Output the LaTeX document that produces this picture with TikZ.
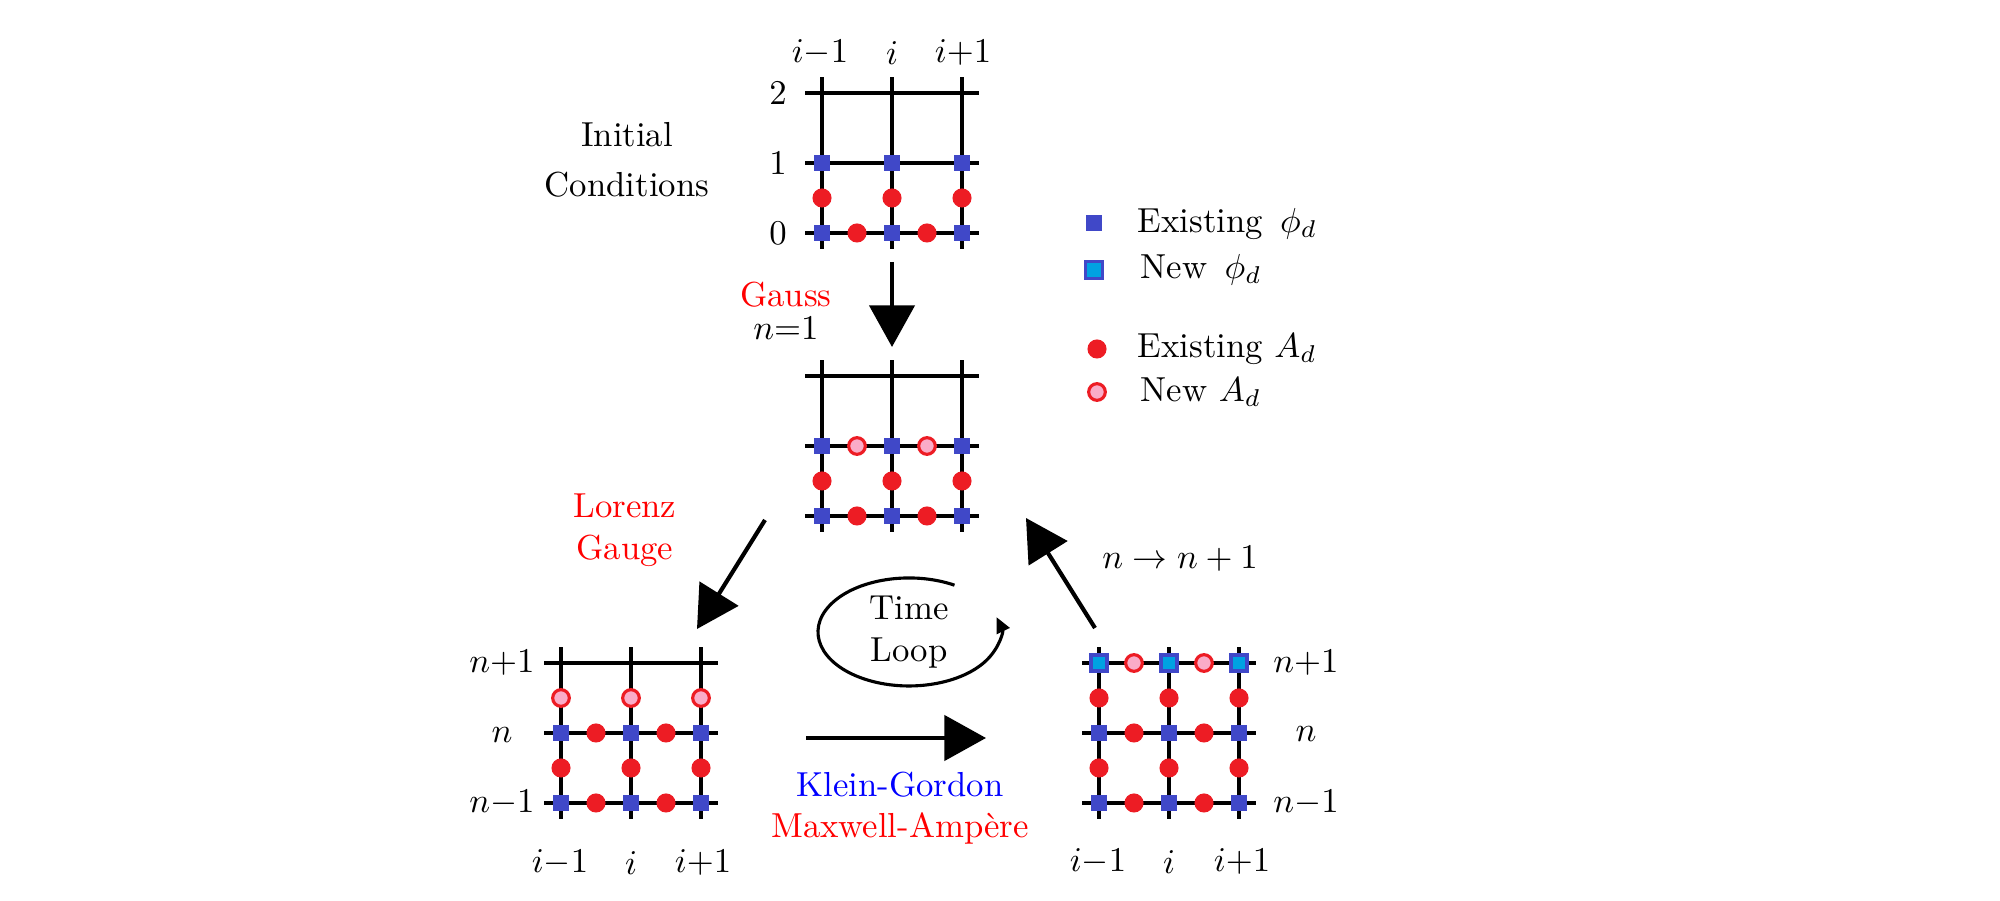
\documentclass[tikz,border=0pt]{standalone}
\usepackage{tikz}
\usetikzlibrary{arrows.meta,positioning}

\definecolor{phiblue}{RGB}{64,72,200}
\definecolor{phicyan}{RGB}{0,162,226}
\definecolor{ared}{RGB}{237,28,36}
\definecolor{apink}{RGB}{250,172,200}

% 3x3 lattice, lower left point at (#1,#2), spacing 70
\newcommand{\latticegrid}[2]{%
  \foreach \k in {0,1,2} {
    \draw[gridline] (#1-17,#2+70*\k) -- (#1+157,#2+70*\k);
    \draw[gridline] (#1+70*\k,#2-16) -- (#1+70*\k,#2+156);
  }%
}

\begin{document}
\begin{tikzpicture}[
    x=0.288pt, y=0.288pt,
    gridline/.style={line width=1pt},
    phiold/.style={fill=phiblue, minimum size=4.5pt, inner sep=0pt},
    phinew/.style={draw=phiblue, fill=phicyan, line width=0.9pt, minimum size=4.6pt, inner sep=0pt},
    aold/.style={circle, fill=ared, minimum size=5.5pt, inner sep=0pt},
    anew/.style={circle, draw=ared, fill=apink, line width=0.9pt, minimum size=4.8pt, inner sep=0pt},
    bigarrow/.style={line width=1.2pt, -{Triangle[length=12pt,width=13pt]}},
    label/.style={inner sep=1pt}
  ]
  \useasboundingbox (0,0) rectangle (2000,-901);

  % initial conditions
  \latticegrid{822}{-233}
  \foreach \k in {0,1,2} {
    \node[phiold] (ic-p\k a) at (822+70*\k,-233) {};
    \node[phiold] (ic-p\k b) at (822+70*\k,-163) {};
    \node[aold] (ic-v\k) at (822+70*\k,-198) {};
  }
  \foreach \k in {0,1} \node[aold] (ic-h\k) at (857+70*\k,-233) {};
  \node[label] (ic-c0) at (820,-53) {$i{-}1$};
  \node[label] (ic-c1) at (892,-53) {$i$};
  \node[label] (ic-c2) at (963,-53) {$i{+}1$};
  \node[label] (ic-r2) at (778,-93) {$2$};
  \node[label] (ic-r1) at (778,-163) {$1$};
  \node[label] (ic-r0) at (778,-233) {$0$};
  \node[align=center] (ictext) at (627,-160) {Initial\\[2.4pt]Conditions};

  % gauss step
  \latticegrid{822}{-516}
  \foreach \k in {0,1,2} {
    \node[phiold] (ga-p\k a) at (822+70*\k,-516) {};
    \node[phiold] (ga-p\k b) at (822+70*\k,-446) {};
    \node[aold] (ga-v\k) at (822+70*\k,-481) {};
  }
  \foreach \k in {0,1} {
    \node[aold] (ga-h\k) at (857+70*\k,-516) {};
    \node[anew] (ga-n\k) at (857+70*\k,-446) {};
  }

  % lorenz gauge step
  \latticegrid{561}{-803}
  \foreach \k in {0,1,2} {
    \node[phiold] (lg-p\k a) at (561+70*\k,-803) {};
    \node[phiold] (lg-p\k b) at (561+70*\k,-733) {};
    \node[aold] (lg-v\k) at (561+70*\k,-768) {};
    \node[anew] (lg-n\k) at (561+70*\k,-698) {};
  }
  \foreach \k in {0,1} {
    \node[aold] (lg-h\k a) at (596+70*\k,-803) {};
    \node[aold] (lg-h\k b) at (596+70*\k,-733) {};
  }
  \node[label] (lg-c0) at (560,-863) {$i{-}1$};
  \node[label] (lg-c1) at (631,-863) {$i$};
  \node[label] (lg-c2) at (703,-863) {$i{+}1$};
  \node[label] (lg-r2) at (502,-663) {$n{+}1$};
  \node[label] (lg-r1) at (502,-735) {$n$};
  \node[label] (lg-r0) at (502,-803) {$n{-}1$};

  % klein-gordon / maxwell-ampere step
  \latticegrid{1099}{-803}
  \foreach \k in {0,1,2} {
    \node[phiold] (km-p\k a) at (1099+70*\k,-803) {};
    \node[phiold] (km-p\k b) at (1099+70*\k,-733) {};
    \node[phinew] (km-p\k c) at (1099+70*\k,-663) {};
    \node[aold] (km-v\k a) at (1099+70*\k,-768) {};
    \node[aold] (km-v\k b) at (1099+70*\k,-698) {};
  }
  \foreach \k in {0,1} {
    \node[aold] (km-h\k a) at (1134+70*\k,-803) {};
    \node[aold] (km-h\k b) at (1134+70*\k,-733) {};
    \node[anew] (km-n\k) at (1134+70*\k,-663) {};
  }
  \node[label] (km-c0) at (1098,-862) {$i{-}1$};
  \node[label] (km-c1) at (1169,-862) {$i$};
  \node[label] (km-c2) at (1242,-862) {$i{+}1$};
  \node[label] (km-r2) at (1306,-663) {$n{+}1$};
  \node[label] (km-r1) at (1306,-734) {$n$};
  \node[label] (km-r0) at (1306,-803) {$n{-}1$};

  % legend
  \node[phiold, minimum size=4.7pt] (key1) at (1094,-223) {};
  \node[phinew, minimum size=4.8pt] (key2) at (1094,-270) {};
  \node[aold] (key3) at (1097,-349) {};
  \node[anew] (key4) at (1097,-392) {};
  \node[anchor=west, inner sep=0pt] (key1t) at (1137,-224) {Existing\enspace$\phi_d$};
  \node[anchor=west, inner sep=0pt] (key2t) at (1140,-270) {New\enspace$\phi_d$};
  \node[anchor=west, inner sep=0pt] (key3t) at (1137,-349) {Existing $A_d$};
  \node[anchor=west, inner sep=0pt] (key4t) at (1140,-392) {New $A_d$};

  % arrows between the steps
  \coordinate (gs) at (892,-262);
  \coordinate (ge) at (892,-347);
  \coordinate (ls) at (765,-520);
  \coordinate (le) at (697,-629);
  \coordinate (ks) at (806,-738);
  \coordinate (ke) at (986,-738);
  \coordinate (ns) at (1095,-628);
  \coordinate (ne) at (1026,-518);
  \draw[bigarrow] (gs) -- (ge);
  \draw[bigarrow] (ls) -- (le);
  \draw[bigarrow] (ks) -- (ke);
  \draw[bigarrow] (ns) -- (ne);

  \node[align=center] (gauss) at (786,-311) {\textcolor{red}{Gauss}\\[-2.4pt]$n{=}1$};
  \node[align=center, text=red] (lorenz) at (625,-530) {Lorenz\\Gauge};
  \node[align=center] (kgma) at (900,-808) {\textcolor{blue}{Klein-Gordon}\\\textcolor{red}{Maxwell-Amp\`ere}};
  \node (step) at (1180,-559) {$n\rightarrow n+1$};

  % time loop
  \node[align=center] (loop) at (909,-632) {Time\\Loop};
  \draw[line width=0.9pt, -{Triangle[length=4.5pt,width=4pt]}]
    (loop.center) ++(45.5,46.8) arc[start angle=60, end angle=376, x radius=91, y radius=54];
\end{tikzpicture}
\end{document}
